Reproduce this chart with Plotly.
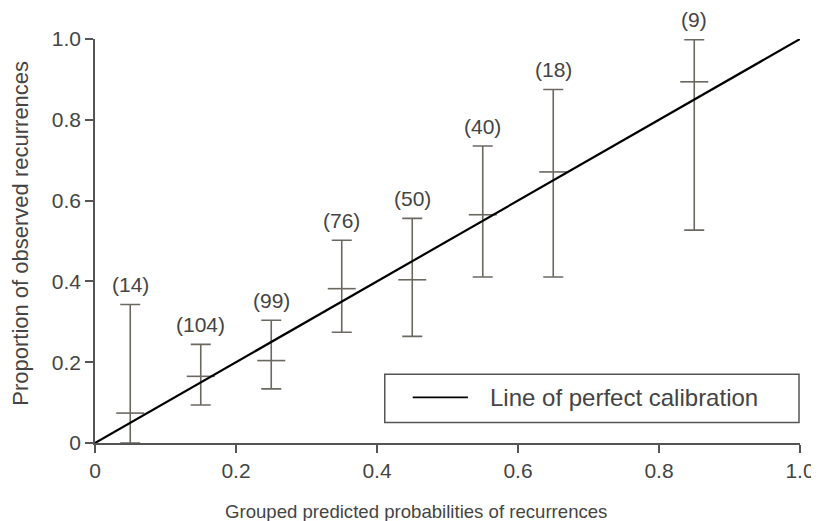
import plotly.graph_objects as go

# Data
group_mid = [0.05, 0.15, 0.25, 0.35, 0.45, 0.55, 0.65, 0.85]
observed = [0.074, 0.165, 0.204, 0.382, 0.404, 0.565, 0.671, 0.894]
upper = [0.343, 0.244, 0.304, 0.502, 0.556, 0.735, 0.875, 0.998]
lower = [0.0, 0.094, 0.134, 0.274, 0.264, 0.411, 0.411, 0.527]
counts = [14, 104, 99, 76, 50, 40, 18, 9]

tick_vals = [0, 0.2, 0.4, 0.6, 0.8, 1.0]
x_tick_text = ["0", "0.2", "0.4", "0.6", "0.8", "1.0"]
y_tick_text = ["0", "0.2", "0.4", "0.6", "0.8", "1.0"]
legend_label = "Line of perfect calibration"
x_title = "Grouped predicted probabilities of recurrences"
y_title = "Proportion of observed recurrences"

bar_color = "#6b6860"
text_color = "#444444"
axis_color = "#555555"
font_family = "Liberation Sans, Arial, Helvetica, sans-serif"

fig = go.Figure()

fig.add_trace(go.Scatter(
    x=group_mid, y=observed,
    mode="markers",
    marker=dict(symbol="line-ew", size=20, color=bar_color,
                line=dict(color=bar_color, width=1.6)),
    error_y=dict(type="data", symmetric=False,
                 array=[u - o for u, o in zip(upper, observed)],
                 arrayminus=[o - l for o, l in zip(observed, lower)],
                 color=bar_color, thickness=1.6, width=10),
    showlegend=False, cliponaxis=False, hoverinfo="skip",
))

fig.add_trace(go.Scatter(
    x=[0, 1], y=[0, 1], mode="lines",
    line=dict(color="black", width=2.2),
    name=legend_label, cliponaxis=False, showlegend=False,
))

for xm, u, n in zip(group_mid, upper, counts):
    fig.add_annotation(x=xm, y=u, text=f"({n})", showarrow=False,
                       yanchor="middle", yshift=20,
                       font=dict(size=21, color=text_color, family=font_family))

# Legend box (drawn in paper coordinates)
fig.add_shape(type="rect", xref="paper", yref="paper",
              x0=0.411, x1=0.9986, y0=0.051, y1=0.170,
              line=dict(color=axis_color, width=1.5), fillcolor="white", layer="above")
fig.add_shape(type="line", xref="paper", yref="paper",
              x0=0.4506, x1=0.529, y0=0.113, y1=0.113,
              line=dict(color="black", width=1.6), layer="above")
fig.add_annotation(xref="paper", yref="paper", x=0.557, y=0.113,
                   text=legend_label, showarrow=False,
                   xanchor="left", yanchor="middle",
                   font=dict(size=24, color=text_color, family=font_family))

# Axis titles (positioned as in the reference)
fig.add_annotation(xref="paper", yref="paper", x=0.456, y=-0.1696,
                   text=x_title, showarrow=False,
                   xanchor="center", yanchor="middle",
                   font=dict(size=18.6, color=text_color, family=font_family))
fig.add_annotation(xref="paper", yref="paper", x=-0.106, y=0.5186,
                   text=y_title, showarrow=False, textangle=-90,
                   xanchor="center", yanchor="middle",
                   font=dict(size=22, color=text_color, family=font_family))

fig.update_layout(
    width=819, height=521,
    margin=dict(l=87, r=27, t=31, b=86),
    paper_bgcolor="white", plot_bgcolor="white",
    font=dict(family=font_family, color=text_color, size=20),
    showlegend=False,
    xaxis=dict(range=[0, 1], tickvals=tick_vals, ticktext=x_tick_text,
               showgrid=False, zeroline=False, showline=True, automargin=False,
               linecolor=axis_color, linewidth=1.5, ticks="outside",
               ticklen=8, tickwidth=1.5, tickcolor=axis_color,
               tickfont=dict(size=21)),
    yaxis=dict(range=[0, 1], tickvals=tick_vals, ticktext=y_tick_text,
               showgrid=False, zeroline=False, showline=True, automargin=False,
               linecolor=axis_color, linewidth=1.5, ticks="outside",
               ticklen=8, tickwidth=1.5, tickcolor=axis_color,
               tickfont=dict(size=21)),
)

fig.write_html("out.html")
